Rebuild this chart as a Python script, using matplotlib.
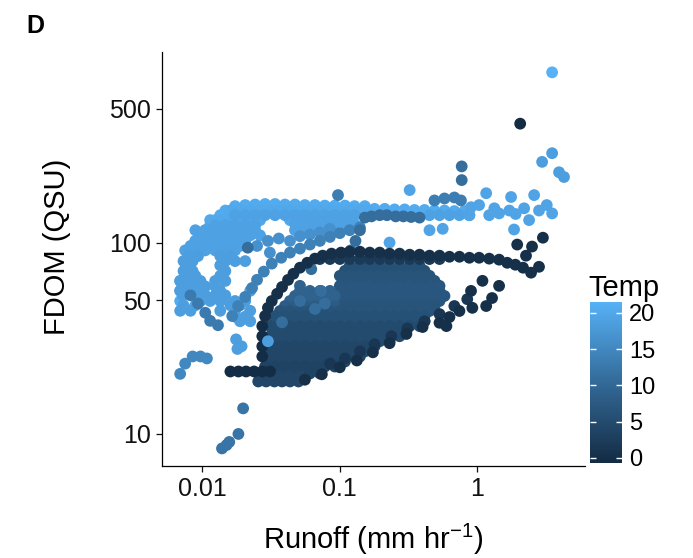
import matplotlib
matplotlib.use("Agg")
import numpy as np
import matplotlib.pyplot as plt
from matplotlib.colors import LinearSegmentedColormap, Normalize

plt.rcParams["font.family"] = ["Liberation Sans", "DejaVu Sans"]
plt.rcParams["mathtext.fontset"] = "custom"
plt.rcParams["mathtext.rm"] = "Liberation Sans"
plt.rcParams["mathtext.it"] = "Liberation Sans:italic"

# ---- Data: (runoff mm/hr, FDOM QSU) ----
light_outer = [(0.0069, 49.5), (0.0069, 56), (0.0069, 63), (0.0075, 71), (0.0075, 80),
               (0.0082, 91), (0.0089, 102), (0.0097, 109), (0.0105, 116), (0.0114, 123),
               (0.0124, 131), (0.0135, 139), (0.0147, 147), (0.0173, 155), (0.0205, 157),
               (0.0242, 158), (0.0286, 159), (0.0338, 159), (0.0399, 158), (0.0472, 158),
               (0.0557, 157), (0.0659, 157), (0.0778, 156), (0.092, 156), (0.109, 156),
               (0.128, 155), (0.152, 155), (0.179, 150), (0.212, 150), (0.25, 149),
               (0.296, 149), (0.349, 148), (0.413, 148), (0.488, 147), (0.577, 147),
               (0.681, 146), (0.805, 146)]
light_top = [(0.016, 147), (0.0188, 147), (0.0223, 147), (0.0263, 147), (0.0311, 147),
             (0.0367, 147), (0.0434, 147), (0.0513, 147), (0.0606, 147), (0.0716, 147),
             (0.0847, 147), (0.1, 147), (0.118, 147), (0.14, 147), (0.165, 147),
             (0.0114, 131), (0.0135, 131), (0.016, 131), (0.0188, 131), (0.0223, 131),
             (0.0263, 131), (0.0434, 131), (0.0513, 131), (0.0606, 131), (0.0716, 131),
             (0.0847, 131), (0.1, 131), (0.118, 131)]
light_fill = [(0.0173, 139), (0.0205, 139), (0.0242, 139), (0.0286, 139), (0.0338, 139),
              (0.0399, 139), (0.0472, 139), (0.0557, 139), (0.0659, 139), (0.0778, 139),
              (0.092, 139), (0.109, 139), (0.128, 139), (0.449, 139), (0.531, 139),
              (0.627, 139), (0.741, 139), (0.875, 139),
              (0.0124, 123), (0.0147, 123), (0.0173, 123), (0.0205, 123), (0.0242, 123),
              (0.0472, 125), (0.0557, 125), (0.0659, 125), (0.0778, 125), (0.092, 125),
              (0.109, 125), (0.128, 125),
              (0.0089, 116), (0.0105, 116), (0.0124, 116), (0.0147, 116), (0.0173, 116),
              (0.0205, 116), (0.0242, 116), (0.0472, 116), (0.0557, 116), (0.0659, 116),
              (0.0778, 116),
              (0.0097, 109), (0.0114, 109), (0.0135, 109), (0.016, 109), (0.0188, 109),
              (0.0223, 109), (0.0263, 109),
              (0.0089, 102), (0.0105, 102), (0.0124, 102), (0.0147, 102), (0.0173, 102),
              (0.0205, 102),
              (0.0082, 96), (0.0097, 96), (0.0114, 96), (0.0135, 96), (0.016, 96), (0.0188, 96),
              (0.0075, 91), (0.0089, 91), (0.0105, 91), (0.0124, 91), (0.0147, 91),
              (0.0173, 91)]
light_left = [(0.0079, 85), (0.0093, 85), (0.0135, 85), (0.016, 85),
              (0.0073, 80), (0.0085, 80), (0.0147, 80), (0.0173, 80), (0.0205, 80),
              (0.0079, 76), (0.0135, 76),
              (0.0073, 71), (0.0085, 71), (0.0147, 71),
              (0.0075, 67), (0.0089, 67), (0.0135, 67),
              (0.0069, 63), (0.0082, 63), (0.0097, 63), (0.0124, 63), (0.0147, 63),
              (0.0075, 59), (0.0089, 59), (0.0105, 59), (0.0124, 59),
              (0.0069, 56), (0.0097, 56), (0.0135, 56), (0.0223, 56),
              (0.0072, 53), (0.0085, 53), (0.0105, 53), (0.0124, 53), (0.0147, 53),
              (0.0097, 49.5), (0.0114, 49.5), (0.0135, 49.5), (0.0173, 49.5), (0.0205, 49.5),
              (0.0073, 47), (0.0089, 47), (0.016, 47), (0.0188, 47),
              (0.0069, 44), (0.0082, 44), (0.0135, 44), (0.0173, 44), (0.0223, 44),
              (0.0173, 41), (0.0205, 41), (0.0188, 38.8), (0.0223, 38.8)]
light_right = [(0.322, 188), (1.16, 181), (1.76, 173), (2.59, 177), (0.56, 118), (0.449, 116),
               (0.23, 100), (1.85, 117), (2.38, 131), (0.9, 153), (1.03, 157), (1.33, 151),
               (1.44, 142), (1.71, 147), (1.9, 141), (2.19, 151), (2.81, 147), (3.2, 157),
               (3.5, 142), (1.22, 139), (0.875, 139)]
light_high = [(3.5, 293), (2.96, 264), (3.93, 233), (4.27, 220)]
mid_light_band = [(0.025, 96), (0.03, 102), (0.036, 105), (0.0434, 102), (0.031, 88.6),
                  (0.0513, 108), (0.0606, 110), (0.0716, 113), (0.0847, 118)]
mid_band = [(0.0165, 41.3), (0.0182, 46.6), (0.0205, 52), (0.023, 57.9), (0.025, 63.9),
            (0.028, 70.5), (0.032, 77.6), (0.0375, 83.3), (0.0434, 88.6), (0.0513, 93),
            (0.0606, 97.6), (0.0716, 102), (0.0847, 107), (0.1, 112), (0.118, 116), (0.14, 120)]
mid_left = [(0.0082, 53), (0.0093, 48), (0.0105, 43), (0.0114, 39), (0.013, 37)]
mid_patch = [(0.488, 166), (0.577, 170), (0.681, 172), (0.76, 166), (0.097, 177)]
mid_upper = [(0.152, 135), (0.17, 137), (0.195, 139), (0.22, 139), (0.255, 137), (0.29, 137),
             (0.33, 136), (0.38, 135), (0.14, 116), (0.13, 102), (0.12, 91),
             (0.77, 250), (0.77, 212), (0.0214, 94)]
low_track = [(0.0069, 20.6), (0.0075, 23.3), (0.0085, 25.4), (0.0097, 25.4), (0.0108, 24.8)]
low_dots = [(0.0198, 13.6), (0.0183, 10.0), (0.0157, 9.08), (0.0139, 8.4), (0.015, 8.75)]

core_a = [(0.118, 75.7), (0.14, 75.7), (0.165, 75.7), (0.195, 75.7), (0.23, 75.7),
          (0.272, 75.7), (0.322, 75.7), (0.38, 75.7),
          (0.109, 71.2), (0.128, 71.2), (0.152, 71.2), (0.179, 71.2), (0.212, 71.2),
          (0.25, 71.2), (0.296, 71.2), (0.349, 71.2), (0.413, 71.2)]
core_b = [(0.1, 67), (0.118, 67), (0.14, 67), (0.165, 67), (0.195, 67), (0.23, 67),
          (0.272, 67), (0.322, 67), (0.38, 67), (0.449, 67),
          (0.109, 63.1), (0.128, 63.1), (0.152, 63.1), (0.179, 63.1), (0.212, 63.1),
          (0.25, 63.1), (0.296, 63.1), (0.349, 63.1), (0.413, 63.1), (0.488, 63.1)]
core_c = [(0.1, 59.4), (0.118, 59.4), (0.14, 59.4), (0.165, 59.4), (0.195, 59.4),
          (0.23, 59.4), (0.272, 59.4), (0.322, 59.4), (0.38, 59.4), (0.449, 59.4), (0.531, 59.4),
          (0.1, 55.9), (0.118, 55.9), (0.14, 55.9), (0.165, 55.9), (0.195, 55.9),
          (0.23, 55.9), (0.272, 55.9), (0.322, 55.9), (0.38, 55.9), (0.449, 55.9), (0.531, 55.9)]
core_d = [(0.109, 52.6), (0.128, 52.6), (0.152, 52.6), (0.179, 52.6), (0.212, 52.6),
          (0.25, 52.6), (0.296, 52.6), (0.349, 52.6), (0.413, 52.6), (0.488, 52.6), (0.577, 52.6),
          (0.1, 49.5), (0.118, 49.5), (0.14, 49.5), (0.165, 49.5), (0.195, 49.5),
          (0.23, 49.5), (0.272, 49.5), (0.322, 49.5), (0.38, 49.5), (0.449, 49.5), (0.531, 49.5)]
core_d_left = [(0.0513, 59.4), (0.0472, 52.6), (0.0557, 52.6), (0.0659, 52.6),
               (0.0778, 52.6), (0.092, 52.6), (0.0513, 55.9), (0.0606, 55.9),
               (0.0716, 55.9), (0.0847, 55.9), (0.0434, 49.5), (0.0513, 49.5),
               (0.0606, 49.5), (0.0716, 49.5), (0.0847, 49.5)]
core_e_left = [(0.0399, 46.6), (0.0472, 46.6), (0.0557, 46.6), (0.0659, 46.6),
               (0.0778, 46.6), (0.092, 46.6)]
core_e = [(0.109, 46.6), (0.128, 46.6), (0.152, 46.6), (0.179, 46.6), (0.212, 46.6),
          (0.25, 46.6), (0.296, 46.6), (0.349, 46.6), (0.413, 46.6), (0.488, 46.6),
          (0.0367, 43.9), (0.0434, 43.9), (0.0513, 43.9), (0.0606, 43.9), (0.0716, 43.9),
          (0.0847, 43.9), (0.1, 43.9), (0.118, 43.9), (0.14, 43.9), (0.165, 43.9),
          (0.195, 43.9), (0.23, 43.9), (0.272, 43.9), (0.322, 43.9), (0.38, 43.9), (0.449, 43.9)]
core_f = [(0.0338, 41.3), (0.0399, 41.3), (0.0472, 41.3), (0.0557, 41.3), (0.0659, 41.3),
          (0.0778, 41.3), (0.092, 41.3), (0.109, 41.3), (0.128, 41.3), (0.152, 41.3),
          (0.179, 41.3), (0.212, 41.3), (0.25, 41.3), (0.296, 41.3), (0.349, 41.3), (0.413, 41.3),
          (0.0338, 38.8), (0.0399, 38.8), (0.0472, 38.8), (0.0557, 38.8), (0.0659, 38.8),
          (0.0778, 38.8), (0.092, 38.8), (0.109, 38.8), (0.128, 38.8), (0.152, 38.8),
          (0.179, 38.8), (0.212, 38.8), (0.25, 38.8), (0.296, 38.8), (0.349, 38.8), (0.413, 38.8)]
core_g = [(0.0311, 36.6), (0.0367, 36.6), (0.0434, 36.6), (0.0513, 36.6), (0.0606, 36.6),
          (0.0716, 36.6), (0.0847, 36.6), (0.1, 36.6), (0.118, 36.6), (0.14, 36.6),
          (0.165, 36.6), (0.195, 36.6), (0.23, 36.6), (0.272, 36.6), (0.322, 36.6), (0.38, 36.6),
          (0.0338, 34.4), (0.0399, 34.4), (0.0472, 34.4), (0.0557, 34.4), (0.0659, 34.4),
          (0.0778, 34.4), (0.092, 34.4), (0.109, 34.4), (0.128, 34.4), (0.152, 34.4),
          (0.179, 34.4), (0.212, 34.4), (0.25, 34.4), (0.296, 34.4)]
core_h = [(0.0311, 32.4), (0.0367, 32.4), (0.0434, 32.4), (0.0513, 32.4), (0.0606, 32.4),
          (0.0716, 32.4), (0.0847, 32.4), (0.1, 32.4), (0.118, 32.4), (0.14, 32.4),
          (0.165, 32.4), (0.195, 32.4), (0.23, 32.4), (0.272, 32.4),
          (0.0311, 30.5), (0.0367, 30.5), (0.0434, 30.5), (0.0513, 30.5), (0.0606, 30.5),
          (0.0716, 30.5), (0.0847, 30.5), (0.1, 30.5), (0.118, 30.5), (0.14, 30.5),
          (0.165, 30.5), (0.195, 30.5), (0.23, 30.5)]
core_i = [(0.0295, 28.7), (0.0345, 28.7), (0.04, 28.7), (0.047, 28.7), (0.0557, 28.7),
          (0.0659, 28.7), (0.0778, 28.7), (0.092, 28.7), (0.109, 28.7), (0.128, 28.7),
          (0.152, 28.7), (0.179, 28.7),
          (0.0311, 27.0), (0.0367, 27.0), (0.0434, 27.0), (0.0513, 27.0), (0.0606, 27.0),
          (0.0716, 27.0), (0.0847, 27.0), (0.1, 27.0), (0.118, 27.0), (0.14, 27.0), (0.152, 27.0)]
core_j = [(0.0286, 25.4), (0.0338, 25.4), (0.0399, 25.4), (0.0472, 25.4), (0.0557, 25.4),
          (0.0659, 25.4), (0.0778, 25.4), (0.092, 25.4), (0.109, 25.4), (0.128, 25.4), (0.14, 25.4),
          (0.0311, 23.9), (0.0367, 23.9), (0.0434, 23.9), (0.0513, 23.9), (0.0606, 23.9),
          (0.0716, 23.9), (0.0847, 23.9), (0.1, 23.9), (0.109, 23.9)]
core_k = [(0.0286, 22.5), (0.0338, 22.5), (0.0399, 22.5), (0.0472, 22.5), (0.0557, 22.5),
          (0.0659, 22.5), (0.0778, 22.5), (0.092, 22.5),
          (0.0367, 20.7), (0.0434, 20.7), (0.0513, 20.7), (0.0606, 20.7), (0.0716, 20.7)]
core_bottom = [(0.0255, 18.8), (0.0291, 18.8), (0.0334, 18.8), (0.038, 18.8),
               (0.0434, 18.8), (0.05, 18.8), (0.0311, 20.0), (0.0367, 20.0),
               (0.0434, 20.0), (0.0513, 20.0)]
core_spots = [(0.038, 38.3), (0.0513, 49.5), (0.062, 72.6), (0.073, 55.9), (0.0659, 45),
              (0.0778, 48)]

dark_left = [(0.016, 21.2), (0.0183, 21.2), (0.0208, 21.2), (0.0238, 21.2), (0.0273, 21.2),
             (0.0311, 21.2), (0.0273, 36.6), (0.0273, 32.4), (0.0273, 28.7), (0.0273, 25.4)]
dark_top2 = [(0.0716, 82), (0.0847, 82), (0.1, 82), (0.118, 82), (0.14, 82), (0.165, 82),
             (0.195, 82), (0.23, 82), (0.272, 82), (0.322, 82), (0.38, 82), (0.449, 82), (0.531, 82)]
dark_top = [(0.0286, 41.3), (0.03, 45.6), (0.032, 49.5), (0.035, 54), (0.038, 58.6),
            (0.042, 63.8), (0.046, 68.7), (0.0513, 73.9), (0.058, 78.4), (0.0659, 82.4),
            (0.075, 85.4), (0.087, 87.5), (0.102, 88.6), (0.118, 89.6), (0.14, 89.6),
            (0.165, 88.6), (0.195, 88.6), (0.23, 87.5), (0.272, 87.5), (0.322, 86.4),
            (0.38, 86.4), (0.449, 85.4), (0.531, 85.4), (0.627, 84.3), (0.741, 84.3),
            (0.875, 83.3), (1.03, 83.3), (1.22, 82.4), (1.44, 81.4), (1.65, 78.4),
            (1.89, 76.6), (2.15, 73.9), (2.46, 69.6), (2.81, 74.7), (1.95, 97.6),
            (2.5, 95.3), (3.0, 106), (2.26, 85.4)]
dark_low_inner = [(0.085, 23.3), (0.109, 24.8), (0.14, 27), (0.179, 29.4), (0.237, 32.4),
                  (0.31, 35.6), (0.413, 38.8), (0.531, 42.3), (0.681, 46.6), (0.845, 50.6)]
dark_low = [(1.09, 63.1), (1.44, 59.4), (0.9, 55.9), (1.28, 51.3), (1.16, 46.6), (0.92, 45.6),
            (0.741, 43.9), (0.627, 40.8), (0.531, 38.1), (0.4, 36.2), (0.305, 33.3),
            (0.23, 29.8), (0.174, 26.7), (0.133, 24.2), (0.1, 22.3), (0.074, 20.5),
            (0.0557, 19.2), (0.596, 36.6)]
light_blob = [(0.0176, 31.2), (0.0193, 28.7), (0.018, 27.8), (0.03, 30.5)]
peak_light = [(3.5, 775)]
peak_dark = [(2.05, 418)]

# temperature of each group, in drawing order
groups = [
    (light_outer, 20.5), (light_top, 20), (light_fill, 19), (light_left, 18.5),
    (light_right, 19.5), (light_high, 18.5),
    (mid_light_band, 16.5), (mid_band, 14), (mid_left, 13), (mid_patch, 13.5),
    (mid_upper, 11), (low_track, 15), (low_dots, 12),
    (core_a, 6), (core_b, 6.5), (core_c, 7), (core_d, 7), (core_d_left, 9),
    (core_e_left, 8), (core_e, 6.5), (core_f, 6), (core_g, 5), (core_h, 5),
    (core_i, 4), (core_j, 4), (core_k, 3.5), (core_bottom, 4), (core_spots, 11),
    (dark_left, -0.3), (dark_top2, 2), (dark_top, 0.3), (dark_low_inner, 1.5),
    (dark_low, 0.3), (light_blob, 18.5), (peak_light, 21.5), (peak_dark, -0.7),
]

runoff = np.array([p[0] for pts, t in groups for p in pts])
fdom = np.array([p[1] for pts, t in groups for p in pts])
temp = np.array([t for pts, t in groups for p in pts])

cmap = LinearSegmentedColormap.from_list("gg", ["#132B43", "#336A98", "#56B1F7"])
norm = Normalize(vmin=-0.7, vmax=21.5)

# ---- Figure ----
fig = plt.figure(figsize=(6.93, 5.58), dpi=100)
ax = fig.add_axes([162 / 693, 1 - 466 / 558, 423 / 693, 414 / 558])

sc = ax.scatter(runoff, fdom, c=temp, cmap=cmap, norm=norm, s=72, linewidths=0)

ax.set_xscale("log")
ax.set_yscale("log")
ax.set_xlim(0.00509, 6.07)
ax.set_ylim(6.8, 990)
ax.set_xticks([0.01, 0.1, 1])
ax.set_xticklabels(["0.01", "0.1", "1"])
ax.set_yticks([10, 50, 100, 500])
ax.set_yticklabels(["10", "50", "100", "500"])
ax.minorticks_off()
for side in ["top", "right"]:
    ax.spines[side].set_visible(False)
for side in ["left", "bottom"]:
    ax.spines[side].set_linewidth(0.9)
ax.tick_params(length=4, width=0.9, labelsize=18, pad=4, colors="#111111")

ax.set_xlabel("Runoff (mm hr$^{-1}$)", fontsize=21)
ax.set_ylabel("FDOM (QSU)", fontsize=21)
ax.xaxis.set_label_coords(0.5, -0.135)
ax.yaxis.set_label_coords(-0.215, 0.53)

fig.text(26 / 693, 1 - 33 / 558, "D", fontsize=18, fontweight="bold", va="baseline")

# ---- Colour bar ----
cax = fig.add_axes([590 / 693, 1 - 463 / 558, 32 / 693, 161 / 558])
cb = fig.colorbar(sc, cax=cax)
cb.outline.set_visible(False)
cbar_ticks = [0, 5, 10, 15, 20]
cb.set_ticks(cbar_ticks)
cax.tick_params(length=0, labelsize=17, pad=5)
cax.hlines(cbar_ticks, 0, 0.2, colors="white", linewidth=1)
cax.hlines(cbar_ticks, 0.8, 1, colors="white", linewidth=1)
fig.text(588 / 693, 1 - 296 / 558, "Temp", fontsize=21, va="baseline")

fig.savefig("out.png", dpi=100)
